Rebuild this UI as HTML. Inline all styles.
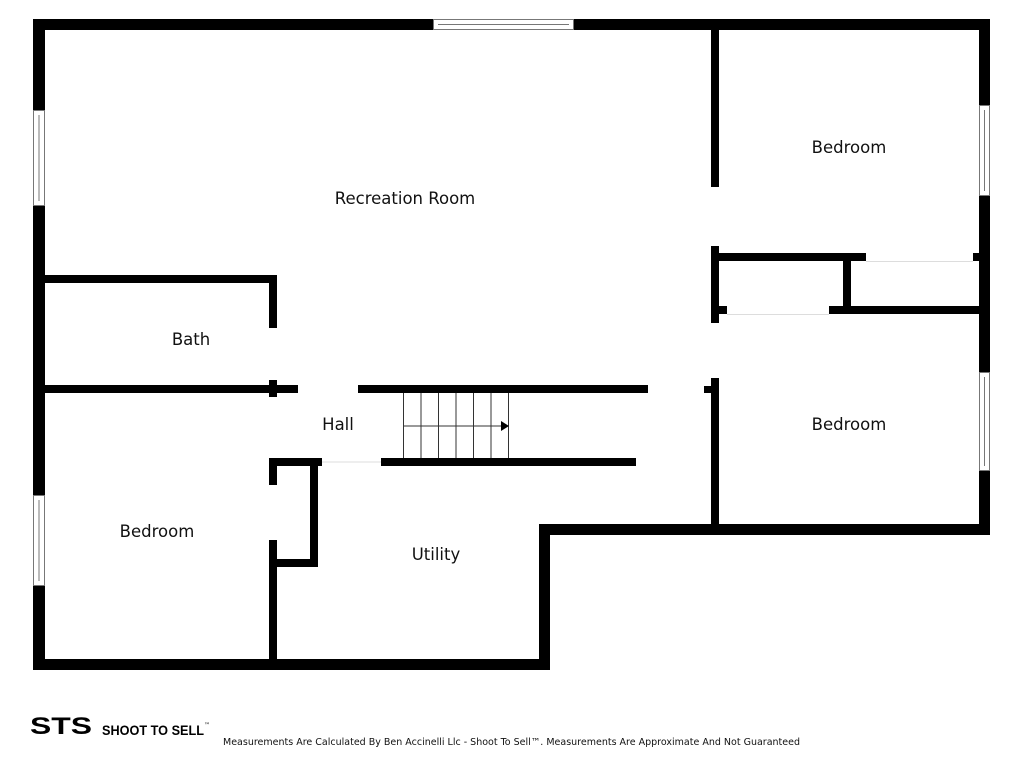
<!DOCTYPE html>
<html><head><meta charset="utf-8"><style>
body{margin:0;background:#fff;width:1024px;height:768px;overflow:hidden}
svg text{font-family:"DejaVu Sans","Liberation Sans",sans-serif}
</style></head><body>
<svg width="1024" height="768" xmlns="http://www.w3.org/2000/svg">
<g fill="#000">
<rect x="33" y="19" width="957" height="11"/>
<rect x="33" y="19" width="12" height="651"/>
<rect x="33" y="659" width="517" height="11"/>
<rect x="539" y="524" width="11" height="146"/>
<rect x="539" y="524" width="451" height="11"/>
<rect x="979" y="19" width="11" height="516"/>
<rect x="711" y="30" width="8" height="157"/>
<rect x="711" y="246" width="8" height="77"/>
<rect x="711" y="306" width="16" height="8"/>
<rect x="711" y="378" width="8" height="146"/>
<rect x="704" y="386" width="8" height="7"/>
<rect x="719" y="253" width="147" height="8"/>
<rect x="973" y="253" width="6" height="8"/>
<rect x="843" y="261" width="8" height="49"/>
<rect x="829" y="306" width="150" height="8"/>
<rect x="45" y="275" width="232" height="8"/>
<rect x="269" y="275" width="8" height="53"/>
<rect x="269" y="380" width="8" height="17"/>
<rect x="45" y="385" width="253" height="8"/>
<rect x="358" y="385" width="290" height="8"/>
<rect x="269" y="458" width="53" height="8"/>
<rect x="381" y="458" width="255" height="8"/>
<rect x="269" y="458" width="8" height="27"/>
<rect x="269" y="540" width="8" height="119"/>
<rect x="310" y="466" width="8" height="101"/>
<rect x="277" y="559" width="41" height="8"/>
</g>
<g fill="#fff" stroke="#777" stroke-width="1">
<rect x="433.5" y="19.5" width="140" height="10"/>
<rect x="33.5" y="110.5" width="11" height="95"/>
<rect x="33.5" y="495.5" width="11" height="90"/>
<rect x="979.5" y="105.5" width="10" height="90"/>
<rect x="979.5" y="372.5" width="10" height="98"/>
</g>
<g stroke="#777" stroke-width="1">
<line x1="438" y1="24.5" x2="569" y2="24.5"/>
<line x1="39" y1="115" x2="39" y2="201"/>
<line x1="39" y1="500" x2="39" y2="581"/>
<line x1="984.5" y1="110" x2="984.5" y2="191"/>
<line x1="984.5" y1="377" x2="984.5" y2="466"/>
</g>
<g stroke="#ddd" stroke-width="1">
<line x1="322" y1="462" x2="381" y2="462"/>
<line x1="866" y1="261.5" x2="973" y2="261.5"/>
<line x1="727" y1="314.5" x2="829" y2="314.5"/>
</g>
<g stroke="#333" stroke-width="1">
<line x1="403.5" y1="393" x2="403.5" y2="458"/>
<line x1="421" y1="393" x2="421" y2="458"/>
<line x1="438.5" y1="393" x2="438.5" y2="458"/>
<line x1="456" y1="393" x2="456" y2="458"/>
<line x1="473.5" y1="393" x2="473.5" y2="458"/>
<line x1="491" y1="393" x2="491" y2="458"/>
<line x1="508.5" y1="393" x2="508.5" y2="458"/>
<line x1="403" y1="426" x2="502" y2="426"/>
</g>
<polygon points="501,421 509,426 501,431" fill="#000"/>
<g font-size="16.5" fill="#111" text-anchor="middle">
<text x="405" y="204">Recreation Room</text>
<text x="849" y="153">Bedroom</text>
<text x="191" y="345">Bath</text>
<text x="338" y="430">Hall</text>
<text x="849" y="430">Bedroom</text>
<text x="157" y="537">Bedroom</text>
<text x="436" y="560">Utility</text>
</g>
<text x="30" y="734" font-size="24" font-weight="bold" fill="#000" style="font-family:'Liberation Sans',sans-serif" textLength="62" lengthAdjust="spacingAndGlyphs">STS</text>
<text x="102" y="735" font-size="14" font-weight="bold" fill="#000" style="font-family:'Liberation Sans',sans-serif" textLength="102" lengthAdjust="spacingAndGlyphs">SHOOT TO SELL</text>
<text x="204" y="727" font-size="6" fill="#000">™</text>
<text x="223" y="745" font-size="9.5" fill="#111" textLength="577" lengthAdjust="spacingAndGlyphs">Measurements Are Calculated By Ben Accinelli Llc - Shoot To Sell™. Measurements Are Approximate And Not Guaranteed</text>
</svg>
</body></html>
